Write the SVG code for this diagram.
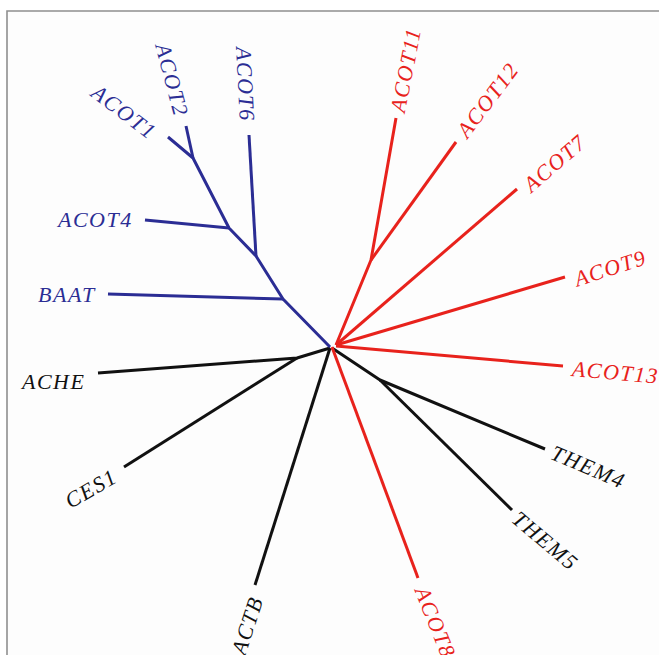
<svg xmlns="http://www.w3.org/2000/svg" width="659" height="655" viewBox="0 0 659 655">
  <style>
    .edge { fill: none; stroke-width: 3; stroke-linejoin: round; stroke-linecap: butt; }
    .blue { stroke: #2b2d94; }
    .red { stroke: #e8221c; }
    .black { stroke: #111111; }
    .lbl { font-family: "Liberation Serif", "Times New Roman", serif; font-style: italic; font-size: 22px; letter-spacing: 1.5px; }
    .tb { fill: #2b2d94; }
    .tr { fill: #e8221c; }
    .tk { fill: #111111; }
  </style>

  <!-- frame -->
  <rect x="0" y="0" width="659" height="655" fill="#ffffff"/>
  <rect x="8" y="12" width="651" height="643" fill="#fdfdfd"/>
  <path d="M7 655 V11 H659" fill="none" stroke="#8f8f8f" stroke-width="1.6"/>

  <!-- tree branches -->
  <g id="connectors">
    <g class="edge black">
      <polyline points="332,348 380,380 545,449"/>
      <line x1="380" y1="380" x2="512" y2="510"/>
      <polyline points="330,348 297,358 98,373"/>
      <line x1="297" y1="358" x2="124" y2="467"/>
      <line x1="330" y1="348" x2="255" y2="585"/>
    </g>
    <g class="edge blue">
      <polyline points="330,347 283,299 256,256 229,228 193,158 168,137"/>
      <line x1="283" y1="299" x2="108" y2="294"/>
      <line x1="256" y1="256" x2="249" y2="135"/>
      <line x1="229" y1="228" x2="145" y2="220"/>
      <line x1="193" y1="158" x2="186" y2="126"/>
    </g>
    <g class="edge red">
      <polyline points="336,345 371,260 396,118"/>
      <line x1="371" y1="260" x2="456" y2="142"/>
      <line x1="336" y1="345" x2="517" y2="189"/>
      <line x1="336" y1="345" x2="565" y2="277"/>
      <line x1="336" y1="346" x2="563" y2="366"/>
      <line x1="332" y1="347" x2="418" y2="578"/>
    </g>
  </g>

  <!-- leaves: blue clade -->
  <g id="ACOT1"><text class="lbl tb" transform="translate(94,90) rotate(37)" y="7">ACOT1</text></g>
  <g id="ACOT2"><text class="lbl tb" transform="translate(162,44) rotate(75)" y="7">ACOT2</text></g>
  <g id="ACOT6"><text class="lbl tb" transform="translate(243,47) rotate(87)" y="7">ACOT6</text></g>
  <g id="ACOT4"><text class="lbl tb" x="58" y="227">ACOT4</text></g>
  <g id="BAAT"><text class="lbl tb" x="38" y="302">BAAT</text></g>

  <!-- leaves: red clade -->
  <g id="ACOT11"><text class="lbl tr" transform="translate(398,112) rotate(-79)" y="7">ACOT11</text></g>
  <g id="ACOT12"><text class="lbl tr" transform="translate(462,135) rotate(-53)" y="7">ACOT12</text></g>
  <g id="ACOT7"><text class="lbl tr" transform="translate(527,188) rotate(-41)" y="7">ACOT7</text></g>
  <g id="ACOT9"><text class="lbl tr" transform="translate(575,280) rotate(-18)" y="7">ACOT9</text></g>
  <g id="ACOT13"><text class="lbl tr" transform="translate(572,369) rotate(5)" y="7">ACOT13</text></g>
  <g id="ACOT8"><text class="lbl tr" transform="translate(421,588) rotate(68)" y="7">ACOT8</text></g>

  <!-- leaves: outgroup -->
  <g id="THEM4"><text class="lbl tk" transform="translate(552,452) rotate(23)" y="7">THEM4</text></g>
  <g id="THEM5"><text class="lbl tk" transform="translate(515,516) rotate(40)" y="7">THEM5</text></g>
  <g id="ACHE"><text class="lbl tk" x="22" y="389">ACHE</text></g>
  <g id="CES1"><text class="lbl tk" transform="translate(67,503) rotate(-30)" y="7">CES1</text></g>
  <g id="ACTB"><text class="lbl tk" transform="translate(257,597) rotate(-72)" y="7" text-anchor="end">ACTB</text></g>
</svg>
